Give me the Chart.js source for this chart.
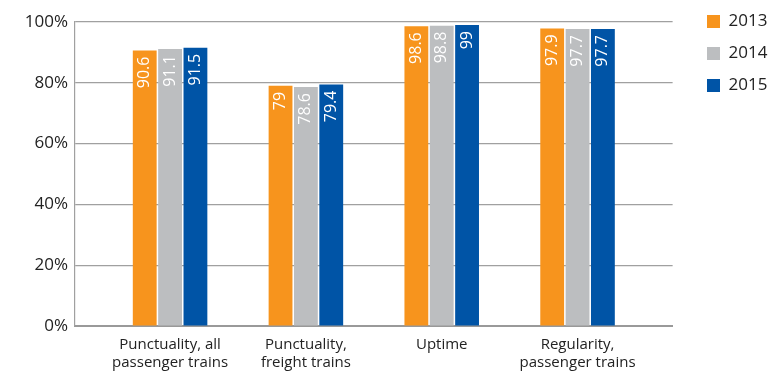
<!DOCTYPE html>
<html>
<head>
<meta charset="utf-8">
<script src="https://cdn.jsdelivr.net/npm/chart.js@4/dist/chart.umd.min.js"></script>
<style>
  html, body { margin: 0; padding: 0; background: #fff; }
  #wrap { width: 770px; height: 378px; position: relative; }
</style>
</head>
<body>
<div id="wrap"><canvas id="myChart"></canvas></div>
<script>
const categories = [
    ['Punctuality, all', 'passenger trains'],
    ['Punctuality,', 'freight trains'],
    ['Uptime'],
    ['Regularity,', 'passenger trains']
];
const years = ['2013', '2014', '2015'];
const values2013 = [90.6, 79, 98.6, 97.9];
const values2014 = [91.1, 78.6, 98.8, 97.7];
const values2015 = [91.5, 79.4, 99, 97.7];
const yTicks = [0, 20, 40, 60, 80, 100];
const colors = ['#F7941D', '#BCBEC0', '#0054A6'];

const FONT = '"Open Sans", sans-serif';

// Placera värden på x = 0..3 så att grupperna hamnar som i originalet
function toPoints(arr) {
    return arr.map((v, i) => ({ x: i, y: v }));
}

// Vita roterade etiketter högst upp i varje stapel
const barLabels = {
    id: 'barLabels',
    afterDatasetsDraw(chart) {
        const ctx = chart.ctx;
        ctx.save();
        ctx.fillStyle = '#ffffff';
        ctx.font = '16px ' + FONT;
        ctx.textAlign = 'right';
        ctx.textBaseline = 'middle';
        chart.data.datasets.forEach((ds, di) => {
            chart.getDatasetMeta(di).data.forEach((bar, i) => {
                ctx.save();
                ctx.translate(bar.x, bar.y + 6);
                ctx.rotate(-Math.PI / 2);
                ctx.fillText(String(ds.data[i].y), 0, 0);
                ctx.restore();
            });
        });
        ctx.restore();
    }
};

// Flytta legenden uppåt/höger som i originalet
const legendShift = {
    id: 'legendShift',
    afterLayout(chart) {
        const lg = chart.legend;
        const h = lg.height;
        lg.top = -2;
        lg.bottom = lg.top + h;
        lg.left = 692;
        lg.right = 770;
        lg.width = 78;
        lg.maxWidth = 78;
    }
};

const ctx = document.getElementById('myChart').getContext('2d');
new Chart(ctx, {
    type: 'bar',
    data: {
        datasets: [values2013, values2014, values2015].map((vals, i) => ({
            label: years[i],
            data: toPoints(vals),
            backgroundColor: colors[i],
            borderWidth: 0,
            barPercentage: 0.94,
            categoryPercentage: 0.56
        }))
    },
    options: {
        responsive: true,
        maintainAspectRatio: false,
        animation: false,
        layout: { padding: { top: 22, right: 12 } },
        plugins: {
            legend: {
                position: 'right',
                align: 'start',
                labels: {
                    boxWidth: 13,
                    boxHeight: 13,
                    padding: 15,
                    color: '#222',
                    font: { family: FONT, size: 17 }
                }
            },
            tooltip: { enabled: false }
        },
        scales: {
            x: {
                type: 'linear',
                min: -0.7,
                max: 3.7,
                offset: false,
                afterBuildTicks(scale) {
                    scale.ticks = categories.map((c, i) => ({ value: i }));
                },
                afterFit(scale) { scale.height = 52; },
                grid: { display: false, drawTicks: false },
                border: { display: true, color: '#999', width: 2 },
                ticks: {
                    autoSkip: false,
                    maxRotation: 0,
                    padding: 10,
                    color: '#222',
                    font: { family: FONT, size: 15, lineHeight: 1.2 },
                    callback: (v) => categories[v]
                }
            },
            y: {
                min: 0,
                max: 100,
                afterBuildTicks(scale) {
                    scale.ticks = yTicks.map(v => ({ value: v }));
                },
                afterFit(scale) { scale.width = 75; },
                grid: { color: '#a0a0a0', lineWidth: 1.2, drawTicks: false },
                border: { display: true, color: '#a0a0a0', width: 1.2 },
                ticks: {
                    padding: 7,
                    color: '#222',
                    font: { family: FONT, size: 17 },
                    callback: (v) => v + '%'
                }
            }
        }
    },
    plugins: [barLabels, legendShift]
});
</script>
</body>
</html>
